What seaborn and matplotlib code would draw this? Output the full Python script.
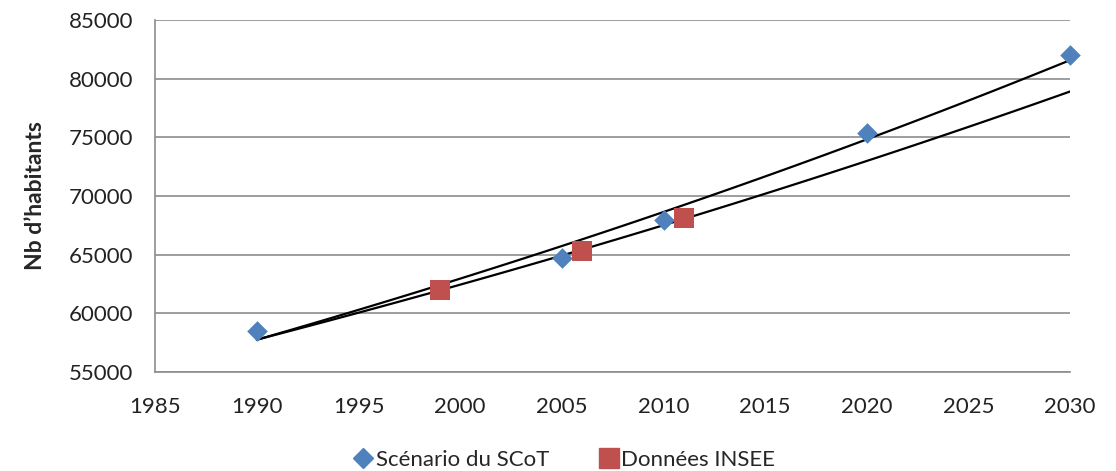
import numpy as np
import pandas as pd
import matplotlib.pyplot as plt
import matplotlib.lines as mlines
import seaborn as sns

# data
scot_years = [1990, 2005, 2010, 2020, 2030]
scot_pop = [58500, 64700, 68000, 75400, 82000]
insee_years = [1999, 2006, 2011]
insee_pop = [62000, 65350, 68100]

blue = '#4F81BD'
red = '#C0504D'
grid_col = '#8C8C8C'

sns.set_style('white')
plt.rcParams['font.family'] = ['Lato', 'DejaVu Sans']

fig, ax = plt.subplots(figsize=(11.16, 4.71), dpi=100)
fig.subplots_adjust(left=0.139, right=0.959, top=0.9575, bottom=0.21)

# exponential trend lines (like Excel), drawn over 1990-2030
xs = np.linspace(1990, 2030, 100)
for yrs, pop in [(scot_years, scot_pop), (insee_years, insee_pop)]:
    b, a = np.polyfit(yrs, np.log(pop), 1)
    sns.lineplot(x=xs, y=np.exp(a + b * xs), color='black', lw=1.6, ax=ax, zorder=2)

scot = pd.DataFrame({'year': scot_years, 'pop': scot_pop})
insee = pd.DataFrame({'year': insee_years, 'pop': insee_pop})
sns.scatterplot(data=scot, x='year', y='pop', marker='D', s=110, color=blue,
                linewidth=0, ax=ax, zorder=3, clip_on=False)
sns.scatterplot(data=insee, x='year', y='pop', marker='s', s=200, color=red,
                linewidth=0, ax=ax, zorder=3, clip_on=False)

ax.set_xlim(1985, 2030)
ax.set_ylim(55000, 85000)
ax.set_xticks(range(1985, 2031, 5))
ax.set_yticks(range(55000, 85001, 5000))
ax.yaxis.grid(True, color=grid_col, lw=1.2)
ax.set_axisbelow(True)
for s in ['top', 'right']:
    ax.spines[s].set_visible(False)
for s in ['left', 'bottom']:
    ax.spines[s].set_color(grid_col)
    ax.spines[s].set_linewidth(1.2)
ax.tick_params(axis='both', length=0, labelsize=16, colors='#222222')
ax.tick_params(axis='x', pad=18)
ax.tick_params(axis='y', pad=16)
ax.set_xlabel('')
ax.set_ylabel("Nb d’habitants", fontsize=16.5, fontweight='bold', labelpad=16)

handles = [mlines.Line2D([], [], marker='D', color=blue, ls='', markersize=10),
           mlines.Line2D([], [], marker='s', color=red, ls='', markersize=15)]
fig.legend(handles, ['Scénario du SCoT', 'Données INSEE'], loc='lower center',
           bbox_to_anchor=(0.505, -0.04), ncol=2, frameon=False, fontsize=16,
           handletextpad=0.05, columnspacing=2.2, handlelength=1.0)

plt.savefig('out.png', dpi=100)
